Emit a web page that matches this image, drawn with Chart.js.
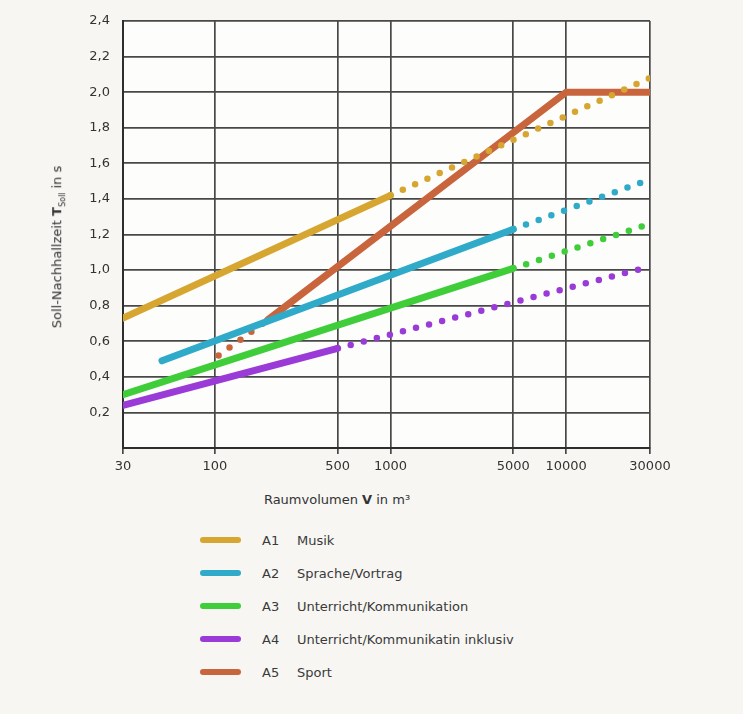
<!DOCTYPE html>
<html lang="de">
<head>
<meta charset="utf-8">
<title>Soll-Nachhallzeit</title>
<script src="https://cdn.jsdelivr.net/npm/chart.js@4/dist/chart.umd.min.js"></script>
<style>
  body { margin: 0; background: #f7f6f3; font-family: "DejaVu Sans", sans-serif; color: #333; }
  #wrap { position: relative; width: 743px; height: 714px; }
  #chart { position: absolute; left: 0; top: 0; }
  .ytitle { position: absolute; left: 58px; top: 247px; transform: translate(-50%, -50%) rotate(-90deg); white-space: nowrap; font-size: 13px; color: #333; }
  .ytitle sub { font-size: 8px; }
  .xtitle { position: absolute; left: 337px; top: 499px; transform: translate(-50%, -50%); white-space: nowrap; font-size: 13px; }
  .legend-row { position: absolute; left: 200px; height: 20px; display: flex; align-items: center; font-size: 13px; color: #3a3a3a; }
  .legend-row .swatch { width: 41px; height: 6px; border-radius: 3px; margin-right: 21px; }
  .legend-row .code { width: 35px; }
</style>
</head>
<body>
<div id="wrap">
  <canvas id="chart" width="743" height="480"></canvas>
  <div class="ytitle">Soll-Nachhallzeit <b>T</b><sub>Soll</sub> in s</div>
  <div class="xtitle">Raumvolumen <b>V</b> in m³</div>
  <div id="legend"></div>
</div>
<script>
const xTicks = [30, 100, 500, 1000, 5000, 10000, 30000];
const codes = ['A1', 'A2', 'A3', 'A4', 'A5'];
const names = ['Musik', 'Sprache/Vortrag', 'Unterricht/Kommunikation', 'Unterricht/Kommunikatin inklusiv', 'Sport'];
const colors = ['#d6a631', '#2fabc9', '#3fcd3a', '#9a3bd8', '#c9653d'];

// solid part of each curve
const solidX = [[30, 1000], [50, 5000], [30, 5000], [30, 500], [200, 10000, 30000]];
const solidY = [[0.73, 1.42], [0.49, 1.23], [0.30, 1.01], [0.24, 0.56], [0.72, 2.0, 2.0]];
// dotted part
const dottedX = [[1000, 30000], [5000, 30000], [5000, 30000], [500, 30000], [105, 200]];
const dottedY = [[1.42, 2.08], [1.23, 1.51], [1.01, 1.26], [0.56, 1.02], [0.52, 0.72]];

const lineOrder = [3, 1, 2, 4, 5];

const toPoints = (xs, ys) => xs.map((x, i) => ({ x, y: ys[i] }));

const datasets = [];
codes.forEach((code, i) => {
  datasets.push({
    label: `${code} ${names[i]}`,
    data: toPoints(solidX[i], solidY[i]),
    borderColor: colors[i],
    borderWidth: 7,
    borderCapStyle: 'round',
    pointRadius: 0,
    order: lineOrder[i],
  });
  datasets.push({
    label: `${code} ${names[i]} (Bereich)`,
    data: toPoints(dottedX[i], dottedY[i]),
    borderColor: colors[i],
    borderWidth: 6.5,
    borderCapStyle: 'round',
    borderDash: [0, 13.5],
    pointRadius: 0,
    order: lineOrder[i] + 0.5,
  });
});

const plotBg = {
  id: 'plotBg',
  beforeDraw(chart) {
    const { ctx, chartArea: a } = chart;
    ctx.save();
    ctx.fillStyle = '#fdfdfc';
    ctx.fillRect(a.left, a.top, a.right - a.left, a.bottom - a.top);
    ctx.restore();
  },
};

new Chart(document.getElementById('chart'), {
  type: 'line',
  data: { datasets },
  options: {
    responsive: false,
    animation: false,
    layout: { padding: { top: 21, right: 93, left: 0, bottom: 0 } },
    plugins: { legend: { display: false }, tooltip: { enabled: false } },
    scales: {
      x: {
        type: 'logarithmic',
        min: 30,
        max: 30000,
        afterBuildTicks: (scale) => { scale.ticks = xTicks.map((v) => ({ value: v })); },
        afterFit: (scale) => { scale.height = 32; },
        grid: { color: '#484848', lineWidth: 1.7, drawTicks: true, tickLength: 6, tickColor: '#484848' },
        border: { color: '#2e2e2e', width: 2 },
        ticks: {
          autoSkip: false,
          maxRotation: 0,
          padding: 5,
          color: '#333',
          font: { family: 'DejaVu Sans', size: 13 },
          callback: (v) => String(v),
        },
      },
      y: {
        min: 0,
        max: 2.4,
        afterFit: (scale) => { scale.width = 123; },
        grid: { color: '#484848', lineWidth: 1.7, drawTicks: false },
        border: { color: '#2e2e2e', width: 2 },
        ticks: {
          stepSize: 0.2,
          padding: 13,
          color: '#333',
          font: { family: 'DejaVu Sans', size: 13 },
          callback: (v) => (v < 0.01 ? '' : v.toFixed(1).replace('.', ',')),
        },
      },
    },
  },
  plugins: [plotBg],
});

const legend = document.getElementById('legend');
const rowY = [540, 573, 606, 639, 672];
legend.innerHTML = codes
  .map(
    (code, i) => `
  <div class="legend-row" style="top:${rowY[i] - 10}px">
    <span class="swatch" style="background:${colors[i]}"></span>
    <span class="code">${code}</span>
    <span>${names[i]}</span>
  </div>`
  )
  .join('');
</script>
</body>
</html>
